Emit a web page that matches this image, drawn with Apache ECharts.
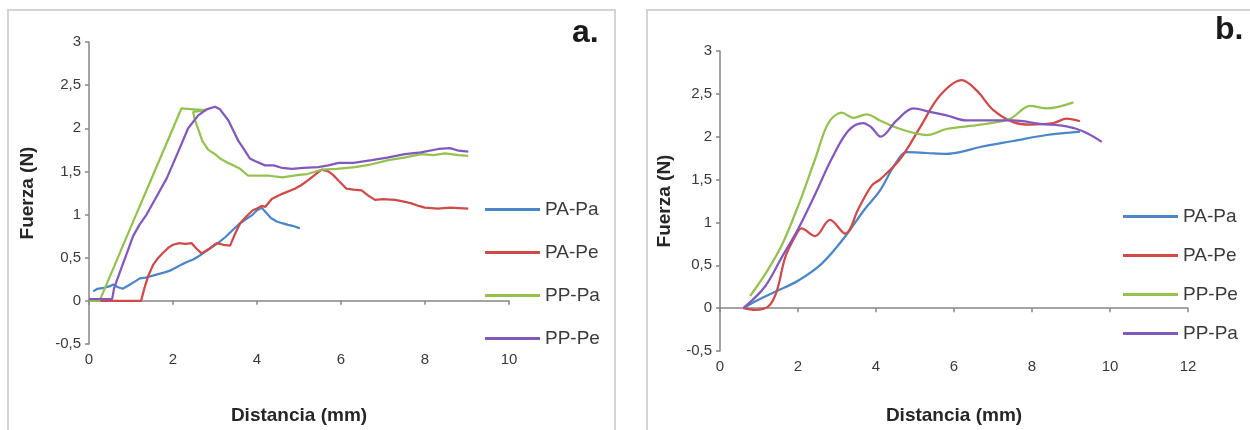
<!DOCTYPE html>
<html>
<head>
<meta charset="utf-8">
<script src="https://cdn.jsdelivr.net/npm/echarts@6/dist/echarts.min.js"></script>
<style>
html,body{margin:0;padding:0;background:#fff;}
#wrap{position:relative;width:1250px;height:430px;overflow:hidden;background:#fff;}
#ca{position:absolute;left:0;top:0;width:630px;height:430px;}
#cb{position:absolute;left:630px;top:0;width:620px;height:430px;}
</style>
</head>
<body>
<div id="wrap"><div id="ca"></div><div id="cb"></div></div>
<script>
// ---------- Panel a data ----------
const aNames = ['PA-Pa', 'PA-Pe', 'PP-Pa', 'PP-Pe'];
const aPAPa = [[0.1,0.11],[0.2,0.14],[0.35,0.15],[0.5,0.17],[0.57,0.19],[0.68,0.16],[0.8,0.14],[0.95,0.18],[1.08,0.22],[1.21,0.26],[1.35,0.27],[1.5,0.29],[1.65,0.31],[1.8,0.33],[1.93,0.35],[2.05,0.38],[2.2,0.42],[2.33,0.45],[2.48,0.48],[2.62,0.52],[2.8,0.58],[2.95,0.63],[3.1,0.68],[3.25,0.74],[3.44,0.83],[3.6,0.9],[3.75,0.95],[3.9,1.0],[4.0,1.05],[4.11,1.08],[4.22,1.02],[4.33,0.96],[4.47,0.92],[4.6,0.9],[4.74,0.88],[4.85,0.87],[5.02,0.84]];
const aPAPe = [[0,0],[0.5,0],[1.0,0],[1.24,0],[1.32,0.15],[1.42,0.3],[1.53,0.42],[1.65,0.5],[1.77,0.56],[1.9,0.62],[2.0,0.65],[2.15,0.67],[2.3,0.66],[2.44,0.67],[2.55,0.61],[2.68,0.55],[2.85,0.6],[3.04,0.67],[3.2,0.65],[3.36,0.64],[3.48,0.78],[3.6,0.9],[3.75,0.98],[3.9,1.05],[4.0,1.07],[4.11,1.1],[4.2,1.09],[4.35,1.18],[4.6,1.24],[4.9,1.3],[5.05,1.34],[5.22,1.4],[5.4,1.47],[5.54,1.52],[5.7,1.5],[5.81,1.46],[5.95,1.39],[6.13,1.3],[6.3,1.29],[6.49,1.28],[6.65,1.22],[6.81,1.17],[7.0,1.18],[7.29,1.17],[7.5,1.15],[7.68,1.13],[7.85,1.1],[8.0,1.08],[8.3,1.07],[8.6,1.08],[9.03,1.07]];
const aPPPa = [[0,0],[0.25,0],[0.6,0.4],[1.0,0.86],[1.5,1.43],[2.0,2.0],[2.2,2.23],[2.5,2.22],[2.8,2.21],[2.48,2.19],[2.52,2.1],[2.6,1.99],[2.7,1.85],[2.84,1.75],[3.0,1.7],[3.12,1.65],[3.3,1.6],[3.44,1.57],[3.6,1.53],[3.79,1.45],[4.0,1.45],[4.3,1.45],[4.6,1.43],[5.0,1.46],[5.2,1.47],[5.54,1.52],[5.9,1.53],[6.33,1.55],[6.7,1.58],[7.13,1.63],[7.5,1.66],[7.92,1.7],[8.2,1.69],[8.48,1.71],[8.8,1.69],[9.03,1.68]];
const aPPPe = [[0,0.02],[0.3,0.02],[0.55,0.02],[0.6,0.15],[0.74,0.34],[0.9,0.55],[1.05,0.75],[1.2,0.88],[1.37,1.0],[1.6,1.2],[1.85,1.42],[2.1,1.7],[2.36,2.0],[2.6,2.15],[2.8,2.22],[3.0,2.25],[3.12,2.22],[3.32,2.09],[3.45,1.96],[3.56,1.85],[3.7,1.75],[3.83,1.65],[3.95,1.62],[4.19,1.57],[4.4,1.57],[4.6,1.54],[4.83,1.53],[5.1,1.54],[5.46,1.55],[5.7,1.57],[5.94,1.6],[6.3,1.6],[6.73,1.63],[7.1,1.66],[7.52,1.7],[7.9,1.72],[8.32,1.76],[8.6,1.77],[8.8,1.74],[9.03,1.73]];

// ---------- Panel b data ----------
const bNames = ['PA-Pa', 'PA-Pe', 'PP-Pe', 'PP-Pa'];
const bPAPa = [[0.6,0],[1.0,0.1],[1.41,0.19],[2.0,0.32],[2.61,0.52],[3.2,0.83],[3.72,1.16],[4.1,1.37],[4.49,1.68],[4.79,1.82],[5.3,1.81],[5.81,1.8],[6.15,1.82],[6.67,1.88],[7.52,1.95],[8.38,2.02],[9.23,2.06]];
const bPAPe = [[0.6,0],[0.9,-0.02],[1.24,0.02],[1.45,0.19],[1.67,0.59],[1.92,0.83],[2.09,0.93],[2.44,0.84],[2.82,1.03],[3.21,0.87],[3.55,1.16],[3.89,1.43],[4.1,1.5],[4.62,1.74],[5.13,2.11],[5.64,2.48],[6.2,2.66],[6.58,2.54],[7.01,2.31],[7.52,2.17],[7.95,2.14],[8.55,2.16],[8.89,2.21],[9.23,2.18]];
const bPPPe = [[0.77,0.14],[1.15,0.39],[1.58,0.73],[2.01,1.2],[2.44,1.74],[2.78,2.16],[3.12,2.28],[3.42,2.22],[3.76,2.26],[4.1,2.19],[4.62,2.09],[5.3,2.02],[5.81,2.09],[6.67,2.14],[7.44,2.21],[7.95,2.36],[8.38,2.33],[9.06,2.4]];
const bPPPa = [[0.6,0],[1.15,0.25],[1.58,0.59],[2.01,0.93],[2.44,1.33],[2.86,1.74],[3.29,2.07],[3.67,2.16],[3.88,2.11],[4.12,2.0],[4.53,2.19],[4.96,2.33],[5.38,2.29],[5.81,2.25],[6.32,2.19],[7.01,2.19],[7.52,2.19],[8.21,2.15],[8.89,2.12],[9.32,2.06],[9.79,1.94]];

const yTicks = [-0.5, 0, 0.5, 1, 1.5, 2, 2.5, 3];
const aXTicks = [0, 2, 4, 6, 8, 10];
const bXTicks = [0, 2, 4, 6, 8, 10, 12];

const COLORS_A = ['#4A86C8', '#CF4A48', '#95C14F', '#8358BC'];
const COLORS_B = ['#4A86C8', '#CF4A48', '#95C14F', '#8358BC'];
const FONT = 'Liberation Sans, Arial, sans-serif';
const fmt = v => String(v).replace('.', ',');

function axisCommon() {
  return {
    axisLine: {lineStyle: {color: '#868686', width: 1.5}},
    axisTick: {show: true, length: 4, lineStyle: {color: '#868686', width: 1.5}},
    splitLine: {show: false},
    axisLabel: {fontSize: 15, color: '#3a3a3a', fontFamily: FONT, formatter: fmt},
    nameTextStyle: {fontSize: 19, fontWeight: 'bold', color: '#262626', fontFamily: FONT}
  };
}

function build(el, cfg) {
  const chart = echarts.init(el, null, {renderer: 'canvas'});
  const xa = Object.assign(axisCommon(), {
    type: 'value', min: 0, max: cfg.xMax, interval: 2,
    name: 'Distancia (mm)', nameLocation: 'middle', nameGap: cfg.xNameGap
  });
  const ya = Object.assign(axisCommon(), {
    type: 'value', min: -0.5, max: 3, interval: 0.5,
    name: 'Fuerza (N)', nameLocation: 'middle', nameGap: cfg.yNameGap
  });
  chart.setOption({
    animation: false,
    backgroundColor: 'transparent',
    color: cfg.colors,
    textStyle: {fontFamily: FONT},
    grid: cfg.grid,
    xAxis: xa,
    yAxis: ya,
    legend: {
      orient: 'vertical', left: cfg.legendLeft, top: cfg.legendTop, padding: 0,
      itemWidth: 55, itemHeight: 3, itemGap: cfg.legendGap, icon: 'rect',
      textStyle: {fontSize: 19, color: '#3a3a3a', lineHeight: 18, fontFamily: FONT},
      data: cfg.names
    },
    graphic: [
      {type: 'rect', silent: true, z: -10, shape: cfg.border,
       style: {fill: 'none', stroke: '#d4d4d4', lineWidth: 2}},
      {type: 'text', left: cfg.labelPos[0], top: cfg.labelPos[1],
       style: {text: cfg.label, fontSize: 32, fontWeight: 'bold', fill: '#1a1a1a', fontFamily: FONT}}
    ],
    series: cfg.data.map((d, i) => ({
      type: 'line', name: cfg.names[i], data: d, showSymbol: false, symbol: 'none',
      smooth: cfg.smooth, lineStyle: {width: 2.25}, z: 2 + i
    }))
  });
}

build(document.getElementById('ca'), {
  xMax: 10, xNameGap: 62, yNameGap: 52,
  colors: COLORS_A, names: aNames,
  grid: {left: 89, top: 42, width: 420, height: 348},
  legendLeft: 485, legendTop: 200, legendGap: 24,
  border: {x: 8, y: 10, width: 607, height: 440},
  label: 'a.', labelPos: [572, 17],
  smooth: false,
  data: [aPAPa, aPAPe, aPPPa, aPPPe]
});
build(document.getElementById('cb'), {
  xMax: 12, xNameGap: 55, yNameGap: 46,
  colors: COLORS_B, names: bNames,
  grid: {left: 90, top: 51, width: 468, height: 347},
  legendLeft: 493, legendTop: 207, legendGap: 20,
  border: {x: 17, y: 10, width: 700, height: 440},
  label: 'b.', labelPos: [585, 14],
  smooth: 0.35,
  data: [bPAPa, bPAPe, bPPPe, bPPPa]
});
</script>
</body>
</html>
